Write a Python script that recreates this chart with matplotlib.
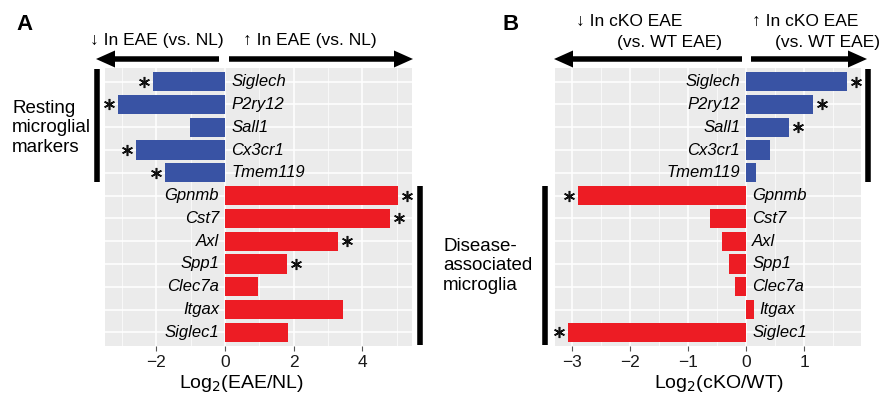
import numpy as np
import matplotlib
matplotlib.use("Agg")
import matplotlib.pyplot as plt
from matplotlib.patches import FancyArrow
from matplotlib.ticker import MultipleLocator
import matplotlib.transforms as mtransforms

plt.rcParams['font.family'] = ['Liberation Sans', 'DejaVu Sans']

# gene order top to bottom
genes = ['Siglech', 'P2ry12', 'Sall1', 'Cx3cr1', 'Tmem119',
         'Gpnmb', 'Cst7', 'Axl', 'Spp1', 'Clec7a', 'Itgax', 'Siglec1']
resting = ['Siglech', 'P2ry12', 'Sall1', 'Cx3cr1', 'Tmem119']

# log2 fold changes
eae_vs_nl = [-2.10, -3.12, -1.02, -2.59, -1.76,
             5.03, 4.81, 3.30, 1.81, 0.97, 3.45, 1.84]
eae_sig = [1, 1, 0, 1, 1, 1, 1, 1, 1, 0, 0, 0]

cko_vs_wt = [1.74, 1.15, 0.73, 0.415, 0.16,
             -2.91, -0.62, -0.41, -0.29, -0.19, 0.13, -3.08]
cko_sig = [1, 1, 1, 0, 0, 1, 0, 0, 0, 0, 0, 1]

BLUE = '#3953A4'
RED = '#ED1C24'
BG = '#EBEBEB'
W, H = 882, 397


def px(x, y):
    # figure pixel (from top-left) -> figure fraction
    return x / W, 1 - y / H


fig = plt.figure(figsize=(W / 100, H / 100), dpi=100)
axA = fig.add_axes([105 / W, 1 - 346 / H, (412 - 105) / W, (346 - 68) / H])
axB = fig.add_axes([555 / W, 1 - 346 / H, (861 - 555) / W, (346 - 68) / H])


def panel(ax, vals, sig, xlim, major, minor, label_mode):
    n = len(genes)
    y = np.arange(n)
    colors = [BLUE if g in resting else RED for g in genes]
    ax.set_facecolor(BG)
    ax.barh(y, vals, height=0.84, color=colors, zorder=3)
    ax.set_xlim(*xlim)
    ax.set_ylim(n - 0.4, -0.6)
    ax.xaxis.set_major_locator(MultipleLocator(major))
    ax.xaxis.set_minor_locator(MultipleLocator(minor))
    ax.grid(which='major', axis='x', color='white', lw=1.1, zorder=0)
    ax.grid(which='minor', axis='x', color='white', lw=0.5, zorder=0)
    for yy in y:
        ax.axhline(yy, color='white', lw=1.1, zorder=0)
    ax.set_yticks([])
    ax.tick_params(axis='x', which='major', length=3.5, width=0.8, color='#555555',
                   labelsize=12.5, labelcolor='#1a1a1a', pad=3)
    ax.tick_params(axis='x', which='minor', length=0)
    ax.xaxis.set_major_formatter(plt.FuncFormatter(
        lambda v, p: ('%d' % v).replace('-', '\u2212')))
    for s in ax.spines.values():
        s.set_visible(False)

    off_r = mtransforms.offset_copy(ax.transData, fig=fig, x=6, y=0, units='dots')
    off_l = mtransforms.offset_copy(ax.transData, fig=fig, x=-6, y=0, units='dots')
    star_r = mtransforms.offset_copy(ax.transData, fig=fig, x=9, y=0, units='dots')
    star_l = mtransforms.offset_copy(ax.transData, fig=fig, x=-9, y=0, units='dots')
    for i, (g, v, s) in enumerate(zip(genes, vals, sig)):
        # gene label on the side opposite the bar direction
        if label_mode == 'A':
            left_side = v > 0
            xl = 0
        else:
            left_side = g in resting
            xl = min(0, v) if left_side else max(0, v)
        if left_side:
            ax.text(xl, i, g, transform=off_l, ha='right', va='center',
                    style='italic', fontsize=12, zorder=4)
        else:
            ax.text(xl, i, g, transform=off_r, ha='left', va='center',
                    style='italic', fontsize=12, zorder=4)
        if s:
            tr = star_r if v > 0 else star_l
            ax.plot(v, i, marker=(6, 2, 0), ms=8, mew=1.15, color='#111111',
                    transform=tr, zorder=5, clip_on=False)


panel(axA, eae_vs_nl, eae_sig, (-3.5, 5.45), 2, 1, 'A')
panel(axB, cko_vs_wt, cko_sig, (-3.3, 1.98), 1, 0.5, 'B')


def group_bar(ax, xfrac, y0, y1):
    tr = mtransforms.blended_transform_factory(ax.transAxes, ax.transData)
    ax.plot([xfrac, xfrac], [y0, y1], color='black', lw=4, transform=tr,
            clip_on=False, solid_capstyle='butt')


group_bar(axA, -0.025, -0.55, 4.42)
group_bar(axA, 1.026, 4.6, 11.56)
group_bar(axB, 1.024, -0.55, 4.42)
group_bar(axB, -0.033, 4.6, 11.56)


def arrow(x0, x1, y):
    fig.patches.append(FancyArrow(x0 / 100, (H - y) / 100, (x1 - x0) / 100, 0,
                                  width=0.055, head_width=0.17, head_length=0.19,
                                  length_includes_head=True, lw=0, color='black',
                                  transform=fig.dpi_scale_trans, figure=fig))


arrow(219, 96, 59)
arrow(229, 413, 59)
arrow(742, 554, 59)
arrow(751, 867, 59)

fig.text(*px(90, 41), '\u2193 In EAE (vs. NL)', ha='left', va='center', fontsize=12.5)
fig.text(*px(243, 41), '\u2191 In EAE (vs. NL)', ha='left', va='center', fontsize=12.5)
fig.text(*px(576, 21), '\u2193 In cKO EAE', ha='left', va='center', fontsize=12.5)
fig.text(*px(617, 42), '(vs. WT EAE)', ha='left', va='center', fontsize=12.5)
fig.text(*px(752, 21), '\u2191 In cKO EAE', ha='left', va='center', fontsize=12.5)
fig.text(*px(775, 42), '(vs. WT EAE)', ha='left', va='center', fontsize=12.5)

fig.text(*px(16, 25), 'A', ha='left', va='center', fontsize=16, fontweight='bold')
fig.text(*px(502, 25), 'B', ha='left', va='center', fontsize=16, fontweight='bold')

fig.text(*px(12, 128), 'Resting\nmicroglial\nmarkers', ha='left', va='center',
         fontsize=13.5, linespacing=1.2)
fig.text(*px(443, 266), 'Disease-\nassociated\nmicroglia', ha='left', va='center',
         fontsize=13.5, linespacing=1.2)

fig.text(*px(242, 384), 'Log$_2$(EAE/NL)', ha='center', va='center', fontsize=14)
fig.text(*px(719, 384), 'Log$_2$(cKO/WT)', ha='center', va='center', fontsize=14)

fig.savefig('out.png', dpi=100)
